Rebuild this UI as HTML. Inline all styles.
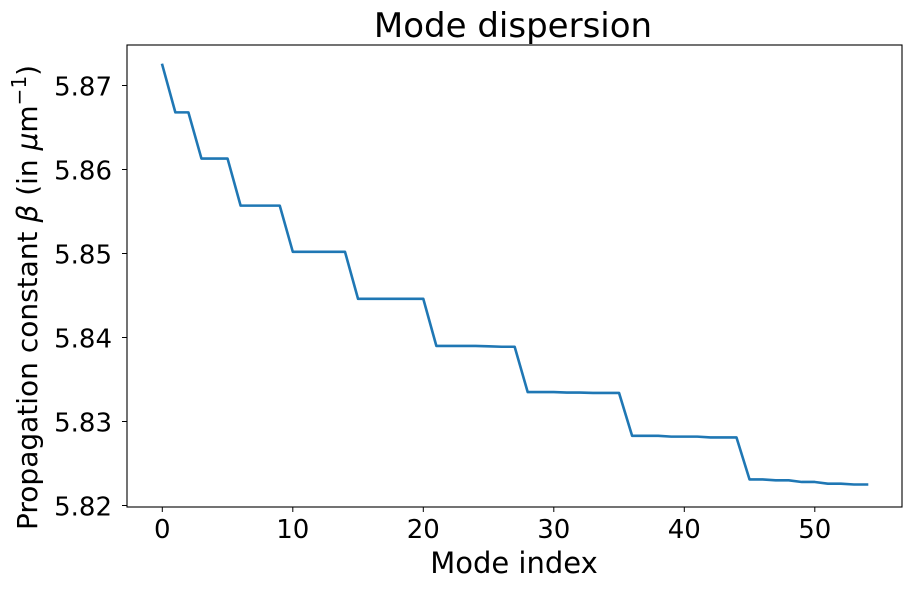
<!DOCTYPE html>
<html><head><meta charset="utf-8"><style>
html,body{margin:0;padding:0;background:#fff;}
svg{display:block;font-family:"DejaVu Sans","Liberation Sans",sans-serif;}
</style></head><body>
<svg id="chart" width="911" height="589">
<text x="513" y="37" text-anchor="middle" font-size="34">Mode dispersion</text>
<g id="axes"></g>
<text x="514" y="573" text-anchor="middle" font-size="29">Mode index</text>
<text transform="translate(37,530) rotate(-90)" text-anchor="start" font-size="28">Propagation constant <tspan font-style="italic">β</tspan> (in <tspan font-style="italic">μ</tspan>m<tspan dy="-11" font-size="20">−1</tspan><tspan dy="11">)</tspan></text>
</svg>
<script>
const modeIndex = [];
for (let i = 0; i <= 54; i++) modeIndex.push(i);
const beta = [5.87245,
5.8668,5.8668,
5.8613,5.8613,5.8613,
5.8557,5.8557,5.8557,5.8557,
5.8502,5.8502,5.8502,5.8502,5.8502,
5.8446,5.8446,5.8446,5.8446,5.8446,5.8446,
5.8390,5.8390,5.8390,5.8390,5.83895,5.8389,5.8389,
5.8335,5.8335,5.8335,5.83345,5.83345,5.8334,5.8334,5.8334,
5.8283,5.8283,5.8283,5.8282,5.8282,5.8282,5.8281,5.8281,5.8281,
5.8231,5.8231,5.8230,5.8230,5.8228,5.8228,5.8226,5.8226,5.8225,5.8225];
const xTicks = [0,10,20,30,40,50];
const yTicks = [5.82,5.83,5.84,5.85,5.86,5.87];
const yTickLabels = ["5.82","5.83","5.84","5.85","5.86","5.87"];

const L=127,R=902,T=45,B=507;
const x = v => 162.3 + v*13.05;
const y = v => 85.5 + (5.87 - v)*8400;
const g = document.getElementById('axes');
const NS='http://www.w3.org/2000/svg';
function mk(t,a){const e=document.createElementNS(NS,t);for(const k in a)e.setAttribute(k,a[k]);g.appendChild(e);return e;}

xTicks.forEach(t=>{
  const l=mk('line',{x1:x(t),x2:x(t),y1:B,y2:B+5,stroke:'#000','stroke-width':1});
  
  
  const s=mk('text',{x:x(t),y:538,'text-anchor':'middle','font-size':26});
  s.textContent=t;
  
  
});
yTicks.forEach((t,i)=>{
  const l=mk('line',{x1:L-5,x2:L,y1:y(t),y2:y(t),stroke:'#000','stroke-width':1});
  
  
  const s=mk('text',{x:L-15,y:y(t)+10,'text-anchor':'end','font-size':26});
  s.textContent=yTickLabels[i];
  
  
});
const pts = modeIndex.map((m,i)=>x(m).toFixed(2)+','+y(beta[i]).toFixed(2)).join(' ');
const line = mk('polyline',{points:pts,fill:'none',stroke:'#1f77b4','stroke-width':2.6,'stroke-linejoin':'round','stroke-linecap':'square'});


const frame = mk('rect',{x:L,y:T,width:R-L,height:B-T,fill:'none',stroke:'#000','stroke-width':1.1});


</script>
</body></html>
